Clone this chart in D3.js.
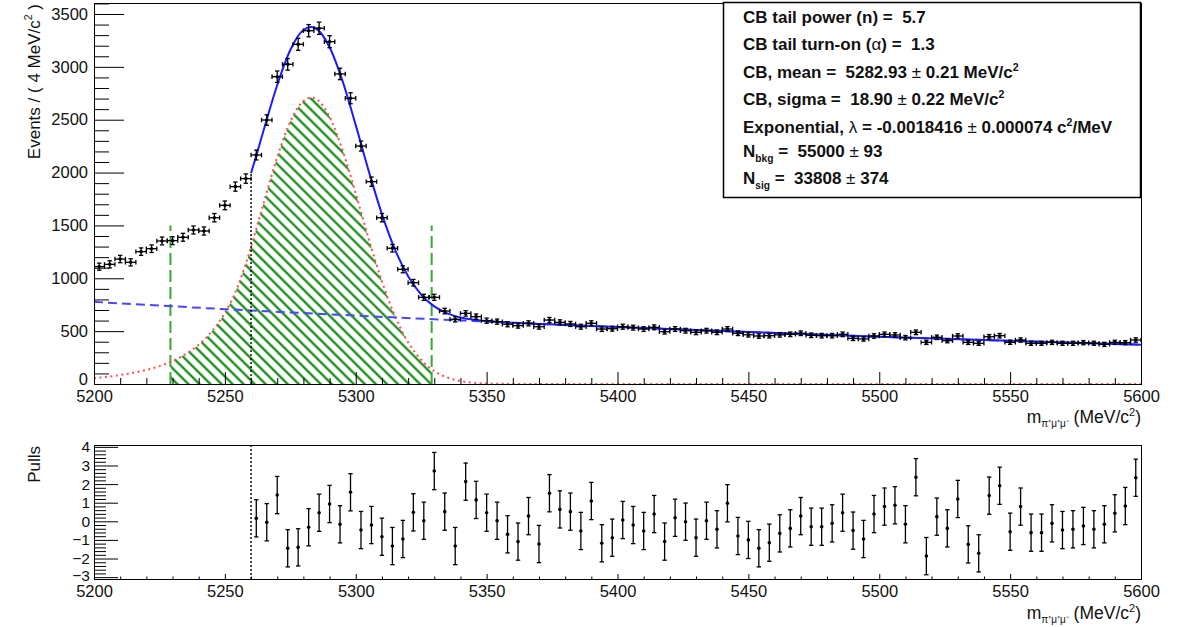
<!DOCTYPE html>
<html>
<head>
<meta charset="utf-8">
<script src="https://cdn.jsdelivr.net/npm/d3@7"></script>
<style>
  body { margin: 0; background: #fff; }
  text { font-family: "Liberation Sans", Arial, sans-serif; fill: #111; }
</style>
</head>
<body>
<div id="chart"></div>
<script>
// ---- data ----
// bin centres, 4 MeV bins from 5200 to 5600
let massBins = d3.range(5202, 5600, 4)
let counts = [1110, 1132, 1182, 1151, 1252, 1280, 1353, 1356, 1388, 1457, 1447, 1573, 1690, 1867, 1943, 2166,
    2497, 2907, 3024, 3213, 3342, 3365, 3238, 2933, 2703, 2251, 1914, 1573, 1284, 1085, 958, 820, 820,
    690, 612, 668, 637, 599, 590, 565, 552, 574, 542, 605, 583, 568, 542, 574, 520, 523, 542, 533, 520, 536,
    495, 520, 504, 489, 504, 489, 520, 480, 466, 454, 457, 465,
    470, 480, 461, 457, 457, 470, 432, 426, 454, 470, 464, 438, 489, 394, 442, 410, 454, 394, 385, 447,
    457, 394, 416, 385, 385, 394, 385, 385, 391, 385, 375, 394, 391, 416]

// pulls exist only inside the fit range (from 5260)
let pullMass = d3.range(5262, 5600, 4)
let pulls = [0.16, -0.05, 1.41, -1.45, -1.40, -0.32, 0.46, 0.93, -0.16, 1.56, -0.47, -0.20, -0.83, -1.33,
    -0.95, 0.48, 0.03, 2.70, 0.52, -1.33, 2.13, 1.15, 0.46, 0.03, -0.70, -1.09, 0.28, -1.22, 1.51, 0.64,
    0.52, -0.52, 1.09, -1.18, -0.88, 0.07, -0.20, -0.52, 0.39, -1.09, 0.19, -0.02, -0.88, 0.03, -0.43,
    0.97, -0.79, -1.00, -1.45, -1.15, -0.65,
    -0.38, 0.28, -0.29, -0.29, -0.11, 0.46, -0.50, -0.95, 0.39, 0.79, 0.86, -0.16, 2.37, -1.87, 0.25,
    -0.38, 1.20, -1.24, -1.72, 1.38, 1.91, -0.56, 0.79, -0.61, -0.61, -0.11, -0.47, -0.43, -0.25, -0.43,
    -0.16, 0.43, 0.82, 2.34]

// signal (red dotted) curve
let sigMass = [5200, 5205, 5210, 5215, 5220, 5225, 5229, 5235, 5240, 5245, 5250, 5255, 5258, 5260, 5262,
    5265, 5270, 5275, 5280, 5283, 5285, 5290, 5295, 5300, 5305, 5310, 5315, 5320, 5325, 5330, 5335, 5340,
    5345, 5350, 5360, 5380, 5450, 5600]
let sigVal = [56, 68, 85, 106, 133, 169, 207, 283, 372, 497, 672, 928, 1136, 1299, 1468,
    1728, 2145, 2482, 2677, 2710, 2694, 2527, 2210, 1802, 1370, 972, 642, 396, 228, 122, 61, 28,
    12, 5, 1, 0, 0, 0]

// background (blue dashed) curve
let bkgMass = [5200, 5250, 5300, 5350, 5400, 5450, 5500, 5550, 5600]
let bkgVal = [777, 708, 647, 590, 539, 492, 447, 408, 372]

// total fit (blue solid), fit range starts at 5260
let totMass = [5260, 5262, 5265, 5270, 5275, 5280, 5283, 5285, 5290, 5295, 5300, 5305, 5310, 5315, 5320,
    5325, 5330, 5335, 5340, 5345, 5350, 5360, 5380, 5400, 5450, 5500, 5550, 5600]
let totVal = [1994, 2160, 2416, 2828, 3159, 3348, 3377, 3359, 3186, 2863, 2449, 2011, 1607, 1271, 1020,
    846, 734, 668, 629, 608, 595, 580, 559, 539, 492, 447, 408, 372]

let fitStart = 5260
let sigWindow = [5229.2, 5329]
let windowHeight = 1500

let legendLines = [
    "CB tail power (n) =  5.7",
    "CB tail turn-on (~α~) =  1.3",
    "CB, mean =  5282.93 ~±~ 0.21 MeV/c^2",
    "CB, sigma =  18.90 ~±~ 0.22 MeV/c^2",
    "Exponential, ~λ~ = -0.0018416 ~±~ 0.000074 c^2/MeV",
    "N_bkg =  55000 ~±~ 93",
    "N_sig =  33808 ~±~ 374"
]

// ---- layout ----
let svgWidth = 1177
let svgHeight = 627
let left = 94, right = 1141

let svg = d3.select('#chart')
    .append('svg')
    .attr('width', svgWidth)
    .attr('height', svgHeight)

let x = d3.scaleLinear().domain([5200, 5600]).range([left, right])
let y = d3.scaleLinear().domain([0, 3604]).range([384, 3])
let yp = d3.scaleLinear().domain([-3.1, 4.1]).range([579, 445])

// hatch pattern for the signal window
let defs = svg.append('defs')
let pat = defs.append('pattern')
    .attr('id', 'hatch')
    .attr('patternUnits', 'userSpaceOnUse')
    .attr('width', 7.8)
    .attr('height', 7.8)
    .attr('patternTransform', 'rotate(-45)')
pat.append('line')
    .attr('x1', 2).attr('y1', 0).attr('x2', 2).attr('y2', 7.8)
    .attr('stroke', '#1f8f1f')
    .attr('stroke-width', 2.4)

defs.append('clipPath').attr('id', 'sigclip')
    .append('rect')
    .attr('x', x(sigWindow[0]))
    .attr('y', 0)
    .attr('width', x(sigWindow[1]) - x(sigWindow[0]))
    .attr('height', y(0))

defs.append('clipPath').attr('id', 'frameclip')
    .append('rect')
    .attr('x', left).attr('y', 3)
    .attr('width', right - left).attr('height', y(0) - 3)

// ---- main panel ----
let sigPts = sigMass.map((m, i) => ({m: m, v: sigVal[i]}))
let bkgPts = bkgMass.map((m, i) => ({m: m, v: bkgVal[i]}))
let totPts = totMass.map((m, i) => ({m: m, v: totVal[i]}))

let sigArea = d3.area()
    .x(d => x(d.m))
    .y0(y(0))
    .y1(d => y(d.v))
    .curve(d3.curveMonotoneX)

let valueLine = d3.line()
    .x(d => x(d.m))
    .y(d => y(d.v))
    .curve(d3.curveMonotoneX)

let plot = svg.append('g').attr('clip-path', 'url(#frameclip)')

plot.append('path')
    .attr('d', sigArea(sigPts))
    .attr('fill', 'url(#hatch)')
    .attr('clip-path', 'url(#sigclip)')

// window edges
sigWindow.forEach(m => {
    plot.append('line')
        .attr('x1', x(m)).attr('x2', x(m))
        .attr('y1', y(0)).attr('y2', y(windowHeight))
        .attr('stroke', '#38a838')
        .attr('stroke-width', 2)
        .attr('stroke-dasharray', '12,5')
})

plot.append('path')
    .attr('d', valueLine(sigPts))
    .attr('fill', 'none')
    .attr('stroke', '#ff4d4d')
    .attr('stroke-width', 2)
    .attr('stroke-dasharray', '2,3.5')

plot.append('path')
    .attr('d', valueLine(bkgPts))
    .attr('fill', 'none')
    .attr('stroke', '#4848ff')
    .attr('stroke-width', 2)
    .attr('stroke-dasharray', '9,5')

plot.append('path')
    .attr('d', valueLine(totPts))
    .attr('fill', 'none')
    .attr('stroke', '#1c1cff')
    .attr('stroke-width', 2)

plot.append('line')
    .attr('x1', x(fitStart)).attr('x2', x(fitStart))
    .attr('y1', y(0)).attr('y2', y(totVal[0]))
    .attr('stroke', '#000')
    .attr('stroke-width', 1.4)
    .attr('stroke-dasharray', '2,2')

// data points with error bars
let halfBin = 2
let cap = 2.2
let pts = plot.append('g').attr('stroke', '#000').attr('stroke-width', 1.3)
massBins.forEach((m, i) => {
    let c = counts[i]
    let err = Math.sqrt(c)
    let cx = x(m), cy = y(c)
    let g = pts.append('g')
    g.append('line').attr('x1', x(m - halfBin)).attr('x2', x(m + halfBin)).attr('y1', cy).attr('y2', cy)
    g.append('line').attr('x1', cx).attr('x2', cx).attr('y1', y(c - err)).attr('y2', y(c + err))
    g.append('line').attr('x1', cx - cap).attr('x2', cx + cap).attr('y1', y(c - err)).attr('y2', y(c - err))
    g.append('line').attr('x1', cx - cap).attr('x2', cx + cap).attr('y1', y(c + err)).attr('y2', y(c + err))
    g.append('line').attr('x1', x(m - halfBin)).attr('x2', x(m - halfBin)).attr('y1', cy - cap).attr('y2', cy + cap)
    g.append('line').attr('x1', x(m + halfBin)).attr('x2', x(m + halfBin)).attr('y1', cy - cap).attr('y2', cy + cap)
    g.append('circle').attr('cx', cx).attr('cy', cy).attr('r', 1.8).attr('fill', '#000').attr('stroke', 'none')
})

// frame
svg.append('rect')
    .attr('x', left + 0.5).attr('y', 3.5)
    .attr('width', right - left).attr('height', y(0) - 3)
    .attr('fill', 'none').attr('stroke', '#000').attr('stroke-width', 1)

// axes, ROOT style ticks pointing inwards
let yMajor = d3.range(0, 3501, 500)
let yMinor = d3.range(0, 3601, 100).filter(v => v % 500 != 0)
let xMajor = d3.range(5200, 5601, 50)
let xMinor = d3.range(5200, 5601, 10).filter(v => v % 50 != 0)
let plain = d3.format('d')

function styleAxis(g, size) {
    g.select('.domain').remove()
    g.selectAll('.tick line').attr('stroke', '#000')
    g.selectAll('.tick text').attr('font-size', size).attr('fill', '#111')
        .attr('font-family', '"Liberation Sans", Arial, sans-serif')
}

// lowest y label sits a touch higher so it clears the x labels
function liftLowest(g, lowest, lift) {
    g.selectAll('.tick').filter(d => d == lowest).select('text').attr('y', -lift)
}

svg.append('g')
    .attr('transform', `translate(${left},0)`)
    .call(d3.axisLeft(y).tickValues(yMajor).tickFormat(plain).tickSizeInner(-30).tickSizeOuter(0).tickPadding(6))
    .call(g => styleAxis(g, 16.5))
    .call(g => liftLowest(g, 0, 5))
svg.append('g')
    .attr('transform', `translate(${left},0)`)
    .call(d3.axisLeft(y).tickValues(yMinor).tickSizeInner(-15).tickSizeOuter(0).tickFormat(''))
    .call(g => styleAxis(g, 16))

svg.append('g')
    .attr('transform', `translate(0,${y(0)})`)
    .call(d3.axisBottom(x).tickValues(xMajor).tickFormat(plain).tickSizeInner(-12).tickSizeOuter(0).tickPadding(6))
    .call(g => styleAxis(g, 16.5))
svg.append('g')
    .attr('transform', `translate(0,${y(0)})`)
    .call(d3.axisBottom(x).tickValues(xMinor).tickSizeInner(-6).tickSizeOuter(0).tickFormat(''))
    .call(g => styleAxis(g, 16))

// rich text helper: ^x superscript, _xxx subscript, ~..~ regular (symbol) weight
function richText(sel, str, size) {
    let re = /(\^\{?[^ ]\}?|_\w+|~[^~]+~|[^\^_~]+)/g
    let parts = str.match(re)
    let shift = 0
    parts.forEach(p => {
        let t = sel.append('tspan')
        let target = 0
        if (p[0] == '^') {
            t.text(p.slice(1)).attr('font-size', size * 0.62)
            target = -size * 0.42
        } else if (p[0] == '_') {
            t.text(p.slice(1)).attr('font-size', size * 0.6)
            target = size * 0.3
        } else if (p[0] == '~') {
            t.text(p.slice(1, -1)).attr('font-weight', 'normal')
        } else {
            t.text(p.replace(/  /g, ' \u00a0'))
        }
        t.attr('dy', target - shift)
        shift = target
    })
}

// y title
let yTitle = svg.append('text')
    .attr('transform', 'translate(39.5,4) rotate(-90)')
    .attr('text-anchor', 'end')
    .attr('font-size', 17)
richText(yTitle, 'Events / ( 4 MeV/c^2 )', 17)

// x title
function xTitle(yb) {
    let t = svg.append('text')
        .attr('x', right)
        .attr('y', yb)
        .attr('text-anchor', 'end')
        .attr('font-size', 17.5)
    t.append('tspan').text('m')
    t.append('tspan').text('π⁺μ⁺μ⁻').attr('font-size', 10).attr('dy', 4)
    t.append('tspan').text(' (MeV/c').attr('dy', -4)
    t.append('tspan').text('2').attr('font-size', 11).attr('dy', -7)
    t.append('tspan').text(')').attr('dy', 7)
}
xTitle(423)

// legend box
svg.append('rect')
    .attr('x', 723.5).attr('y', 2.5)
    .attr('width', 417).attr('height', 195)
    .attr('fill', '#fff')
    .attr('stroke', '#000')
    .attr('stroke-width', 1.5)

let legendBase = [22.7, 50, 77.7, 105.3, 133.3, 156.7, 184.3]
legendLines.forEach((line, i) => {
    let t = svg.append('text')
        .attr('x', 743)
        .attr('y', legendBase[i])
        .attr('font-size', 17)
        .attr('font-weight', 'bold')
    richText(t, line, 17)
})

// ---- pulls panel ----
let pullPlot = svg.append('g').attr('stroke', '#000').attr('stroke-width', 1.3)
pullMass.forEach((m, i) => {
    let p = pulls[i]
    let cx = x(m)
    pullPlot.append('line').attr('x1', cx).attr('x2', cx).attr('y1', yp(p - 1)).attr('y2', yp(p + 1))
    pullPlot.append('line').attr('x1', cx - cap).attr('x2', cx + cap).attr('y1', yp(p - 1)).attr('y2', yp(p - 1))
    pullPlot.append('line').attr('x1', cx - cap).attr('x2', cx + cap).attr('y1', yp(p + 1)).attr('y2', yp(p + 1))
    pullPlot.append('circle').attr('cx', cx).attr('cy', yp(p)).attr('r', 1.8).attr('fill', '#000').attr('stroke', 'none')
})

svg.append('line')
    .attr('x1', x(fitStart)).attr('x2', x(fitStart))
    .attr('y1', 579).attr('y2', 445)
    .attr('stroke', '#000')
    .attr('stroke-width', 1.4)
    .attr('stroke-dasharray', '2,2')

svg.append('rect')
    .attr('x', left + 0.5).attr('y', 445.5)
    .attr('width', right - left).attr('height', 134)
    .attr('fill', 'none').attr('stroke', '#000').attr('stroke-width', 1)

let pMajor = d3.range(-3, 5, 1)
let pMinor = d3.range(-3, 4.01, 0.2).filter(v => Math.abs(v - Math.round(v)) > 0.01)

svg.append('g')
    .attr('transform', `translate(${left},0)`)
    .call(d3.axisLeft(yp).tickValues(pMajor).tickSizeInner(-24).tickSizeOuter(0).tickPadding(4))
    .call(g => styleAxis(g, 15.5))
    .call(g => liftLowest(g, -3, 2))
svg.append('g')
    .attr('transform', `translate(${left},0)`)
    .call(d3.axisLeft(yp).tickValues(pMinor).tickSizeInner(-12).tickSizeOuter(0).tickFormat(''))
    .call(g => styleAxis(g, 16))

svg.append('g')
    .attr('transform', `translate(0,579)`)
    .call(d3.axisBottom(x).tickValues(xMajor).tickFormat(plain).tickSizeInner(-5).tickSizeOuter(0).tickPadding(6))
    .call(g => styleAxis(g, 16.5))
svg.append('g')
    .attr('transform', `translate(0,579)`)
    .call(d3.axisBottom(x).tickValues(xMinor).tickSizeInner(-2.5).tickSizeOuter(0).tickFormat(''))
    .call(g => styleAxis(g, 16.5))

svg.append('text')
    .attr('transform', 'translate(40,446) rotate(-90)')
    .attr('text-anchor', 'end')
    .attr('font-size', 17)
    .text('Pulls')

xTitle(618.5)
</script>
</body>
</html>
